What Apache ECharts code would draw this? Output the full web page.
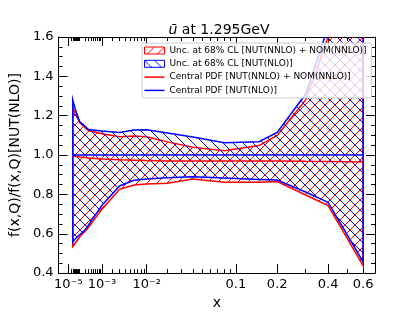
<!DOCTYPE html>
<html>
<head>
<meta charset="utf-8">
<script src="https://cdn.jsdelivr.net/npm/echarts@6/dist/echarts.min.js"></script>
<style>html,body{margin:0;padding:0;background:#fff}#c{width:420px;height:315px}</style>
</head>
<body>
<div id="c"></div>
<script>
// ---- data ----
const xs = [3e-5, 5e-5, 1e-4, 2e-4, 3e-4, 1e-3, 3e-3, 6e-3, 1e-2, 2e-2, 4e-2, 8e-2, 0.15, 0.2, 0.3, 0.4, 0.6];
const nnloUpper = [1.24, 1.21, 1.165, 1.14, 1.125, 1.108, 1.093, 1.097, 1.093, 1.067, 1.04, 1.022, 1.048, 1.10, 1.28, 1.6, 2.05];
const nnloLower = [0.535, 0.553, 0.583, 0.612, 0.632, 0.725, 0.826, 0.848, 0.853, 0.857, 0.878, 0.862, 0.862, 0.865, 0.797, 0.743, 0.437];
const nloUpper  = [1.28, 1.231, 1.17, 1.147, 1.13, 1.122, 1.115, 1.127, 1.128, 1.112, 1.092, 1.062, 1.068, 1.115, 1.31, 1.65, 2.15];
const nloLower  = [0.557, 0.575, 0.595, 0.618, 0.644, 0.745, 0.843, 0.872, 0.878, 0.885, 0.89, 0.883, 0.876, 0.873, 0.812, 0.76, 0.457];
const nnloCentral = [0.995, 0.994, 0.99, 0.987, 0.985, 0.98, 0.976, 0.974, 0.972, 0.97, 0.97, 0.97, 0.97, 0.97, 0.968, 0.967, 0.965];
const nloCentral  = [1.0, 1.0, 1.0, 1.0, 1.0, 1.0, 1.0, 1.0, 1.0, 1.0, 1.0, 1.0, 1.0, 1.0, 1.0, 1.0, 1.0];

const seriesNames = [
  'Unc. at 68% CL [NUT(NNLO) + NOM(NNLO)]',
  'Unc. at 68% CL [NUT(NLO)]',
  'Central PDF [NUT(NNLO) + NOM(NNLO)]',
  'Central PDF [NUT(NLO)]'
];
const titleText = '{i|ū} at 1.295GeV';
const xName = 'x';
const yName = 'f(x,Q)/f(x,Q)[NUT(NLO)]';

const xLabelValues = [1e-5, 1e-3, 1e-2, 0.1, 0.2, 0.4, 0.6];
const xLabelTexts = ['10⁻⁵', '10⁻³', '10⁻²', '0.1', '0.2', '0.4', '0.6'];
const xMajorTicks = [1e-5, 1e-3, 1e-2, 0.1, 0.2, 0.4, 0.6];
const xMinorTicks = [2e-5, 3e-5, 4e-5, 5e-5, 6e-5, 7e-5, 8e-5, 9e-5,
  1e-4, 2e-4, 3e-4, 4e-4, 5e-4, 6e-4, 7e-4, 8e-4, 9e-4,
  2e-3, 3e-3, 4e-3, 5e-3, 6e-3, 7e-3, 8e-3, 9e-3,
  0.02, 0.03, 0.04, 0.05, 0.06, 0.07, 0.08, 0.09, 0.3, 0.5];
const yMin = 0.4, yMax = 1.6, yStep = 0.2;

// ---- scale: power-law x axis ----
const P = 0.3;
const T = x => Math.pow(x, P);
const tMin = 0.00413, tMax = 0.8912;

const FONT = 'DejaVu Sans';
const RED = '#ff0000', BLUE = '#0000ff';

function hatch(color, dir) {
  const s = 10;
  const c = document.createElement('canvas');
  c.width = s; c.height = s;
  const g = c.getContext('2d');
  g.strokeStyle = color; g.lineWidth = 1;
  g.beginPath();
  if (dir > 0) {
    g.moveTo(-1, s + 1); g.lineTo(s + 1, -1);
    g.moveTo(-2, 2); g.lineTo(2, -2);
    g.moveTo(s - 2, s + 2); g.lineTo(s + 2, s - 2);
  } else {
    g.moveTo(-1, -1); g.lineTo(s + 1, s + 1);
    g.moveTo(s - 2, -2); g.lineTo(s + 2, 2);
    g.moveTo(-2, s - 2); g.lineTo(2, s + 2);
  }
  g.stroke();
  return { image: c, repeat: 'repeat' };
}
const redHatch = hatch(RED, 1);
const blueHatch = hatch(BLUE, -1);

function band(name, lo, hi, color, pattern) {
  return {
    type: 'custom', name: name, coordinateSystem: 'cartesian2d',
    xAxisIndex: 0, yAxisIndex: 0, clip: true, silent: true,
    itemStyle: { color: pattern, borderColor: color, borderWidth: 1 },
    data: [[T(xs[0]), lo[0]]],
    renderItem: function (params, api) {
      const pts = [];
      for (let i = 0; i < xs.length; i++) pts.push(api.coord([T(xs[i]), hi[i]]));
      for (let i = xs.length - 1; i >= 0; i--) pts.push(api.coord([T(xs[i]), lo[i]]));
      return {
        type: 'polygon', shape: { points: pts },
        style: { fill: pattern, stroke: color, lineWidth: 1.5 }
      };
    }
  };
}
function line(name, ys, color) {
  return {
    type: 'line', name: name, xAxisIndex: 0, yAxisIndex: 0,
    data: xs.map((x, i) => [T(x), ys[i]]),
    symbol: 'none', showSymbol: false, silent: true,
    lineStyle: { color: color, width: 1.5 }, itemStyle: { color: color },
    animation: false
  };
}

const axisBase = {
  type: 'value', min: tMin, max: tMax, gridIndex: 0,
  splitLine: { show: false }
};
function xAxis(pos, ticks, len, labels) {
  return Object.assign({}, axisBase, {
    position: pos,
    axisLine: { show: !!labels || pos === 'top', onZero: false, lineStyle: { color: '#000', width: 1 } },
    axisTick: { show: true, inside: true, length: len, customValues: ticks.map(T), lineStyle: { color: '#000', width: 1 } },
    axisLabel: labels ? {
      show: true, customValues: xLabelValues.map(T), margin: 5,
      color: '#000', fontFamily: FONT, fontSize: 13,
      formatter: function (v) {
        let best = 0, bd = 1e9;
        xLabelValues.forEach((x, i) => { const d = Math.abs(T(x) - v); if (d < bd) { bd = d; best = i; } });
        return xLabelTexts[best];
      }
    } : { show: false },
    name: labels ? xName : '',
    nameLocation: 'middle', nameGap: 22,
    nameTextStyle: { color: '#000', fontFamily: FONT, fontSize: 14 }
  });
}
function yAxis(pos, labels) {
  return {
    type: 'value', min: yMin, max: yMax, interval: yStep, position: pos, gridIndex: 0,
    splitLine: { show: false },
    axisLine: { show: true, onZero: false, lineStyle: { color: '#000', width: 1 } },
    axisTick: { show: true, inside: true, length: 9, lineStyle: { color: '#000', width: 1 } },
    minorTick: { show: true, splitNumber: 4, length: 4, lineStyle: { color: '#000', width: 1 } },
    axisLabel: labels ? { show: true, margin: 5, color: '#000', fontFamily: FONT, fontSize: 13, formatter: v => v.toFixed(1) } : { show: false },
    name: labels ? yName : '', nameLocation: 'middle', nameGap: 34, nameRotate: 90,
    nameTextStyle: { color: '#000', fontFamily: FONT, fontSize: 14 }
  };
}

const lineIcon = 'path://M0,0L20,0L20,1.5L0,1.5Z';

const option = {
  animation: false,
  backgroundColor: '#fff',
  title: {
    text: titleText, left: 214, top: 18, textAlign: 'center',
    textStyle: { color: '#000', fontFamily: FONT, fontSize: 14, fontWeight: 'normal',
      rich: { i: { fontStyle: 'italic', fontFamily: FONT, fontSize: 14, color: '#000' } } }
  },
  grid: { left: 53, right: 45, top: 37, bottom: 35, containLabel: false },
  xAxis: [
    xAxis('bottom', xMajorTicks, 9, true),
    xAxis('bottom', xMinorTicks, 4, false),
    xAxis('top', xMajorTicks, 9, false),
    xAxis('top', xMinorTicks, 4, false)
  ],
  yAxis: [yAxis('left', true), yAxis('right', false)],
  legend: {
    orient: 'vertical', left: 142, top: 43,
    padding: [2, 5, 2, 2], itemGap: 2.3, itemWidth: 20, itemHeight: 7,
    symbolKeepAspect: true,
    backgroundColor: 'rgba(255,255,255,0.8)', borderColor: '#cccccc', borderWidth: 1, borderRadius: 2,
    selectedMode: false,
    textStyle: { color: '#000', fontFamily: FONT, fontSize: 9, lineHeight: 11 },
    data: [
      { name: seriesNames[0], icon: 'rect', itemStyle: { color: redHatch, borderColor: RED, borderWidth: 1 } },
      { name: seriesNames[1], icon: 'rect', itemStyle: { color: blueHatch, borderColor: BLUE, borderWidth: 1 } },
      { name: seriesNames[2], icon: lineIcon, itemStyle: { color: RED, borderWidth: 0 } },
      { name: seriesNames[3], icon: lineIcon, itemStyle: { color: BLUE, borderWidth: 0 } }
    ]
  },
  series: [
    band(seriesNames[0], nnloLower, nnloUpper, RED, redHatch),
    band(seriesNames[1], nloLower, nloUpper, BLUE, blueHatch),
    line(seriesNames[2], nnloCentral, RED),
    line(seriesNames[3], nloCentral, BLUE)
  ]
};
const chart = echarts.init(document.getElementById('c'), null, { renderer: 'canvas' });
chart.setOption(option);
</script>
</body>
</html>
